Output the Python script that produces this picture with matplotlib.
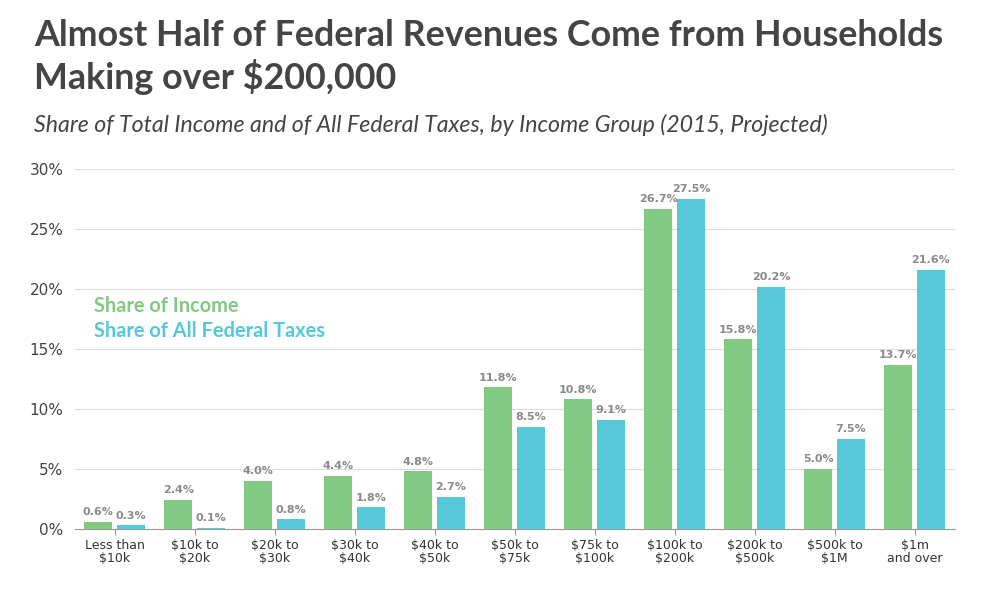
import matplotlib.pyplot as plt
import numpy as np

groups = ["Less than\n$10k", "$10k to\n$20k", "$20k to\n$30k", "$30k to\n$40k", "$40k to\n$50k",
          "$50k to\n$75k", "$75k to\n$100k", "$100k to\n$200k", "$200k to\n$500k", "$500k to\n$1M",
          "$1m\nand over"]
income = [0.6, 2.4, 4.0, 4.4, 4.8, 11.8, 10.8, 26.7, 15.8, 5.0, 13.7]
taxes = [0.3, 0.1, 0.8, 1.8, 2.7, 8.5, 9.1, 27.5, 20.2, 7.5, 21.6]

green = "#82c984"
blue = "#57c8d9"
grey = "#8a8a8a"

fig = plt.figure(figsize=(9.82, 5.89), dpi=100)
ax = fig.add_axes([0.076, 0.102, 0.896, 0.611])

x = np.arange(len(groups))
w = 0.35
ax.bar(x - 0.205, income, w, color=green, zorder=3)
ax.bar(x + 0.205, taxes, w, color=blue, zorder=3)
for xi, a, b in zip(x, income, taxes):
    ax.text(xi - 0.205, a + 0.4, f"{a:.1f}%", ha="center", va="bottom", fontsize=8, color=grey, fontweight="bold")
    ax.text(xi + 0.205, b + 0.4, f"{b:.1f}%", ha="center", va="bottom", fontsize=8, color=grey, fontweight="bold")

ax.set_xlim(-0.5, 10.5)
ax.set_ylim(0, 30)
ax.set_yticks(range(0, 31, 5))
ax.set_yticklabels([f"{v}%" for v in range(0, 31, 5)], fontsize=11, color="#444444")
ax.set_xticks(x)
ax.set_xticklabels(groups, fontsize=9, color="#333333", linespacing=1.0)
ax.tick_params(axis="y", length=0, pad=8)
ax.tick_params(axis="x", length=4, color="#999999")
ax.grid(axis="y", color="#dddddd", linewidth=0.8, zorder=0)
for s in ["top", "right", "left"]:
    ax.spines[s].set_visible(False)
ax.spines["bottom"].set_color("#999999")

ax.text(0.022, 0.62, "Share of Income", transform=ax.transAxes, fontsize=14.4, color=green,
        fontweight="bold", family="Lato", va="center")
ax.text(0.022, 0.55, "Share of All Federal Taxes", transform=ax.transAxes, fontsize=14.4, color=blue,
        fontweight="bold", family="Lato", va="center")

fig.text(0.035, 0.94, "Almost Half of Federal Revenues Come from Households", fontsize=25.8, fontweight="bold",
         color="#444444", family="Lato", va="center")
fig.text(0.035, 0.869, "Making over $200,000", fontsize=25.8, fontweight="bold", color="#444444", family="Lato",
         va="center")
fig.text(0.035, 0.788, "Share of Total Income and of All Federal Taxes, by Income Group (2015, Projected)",
         fontsize=16.7, style="italic", color="#444444", family="Lato", va="center")

fig.savefig("out.png", dpi=100)
